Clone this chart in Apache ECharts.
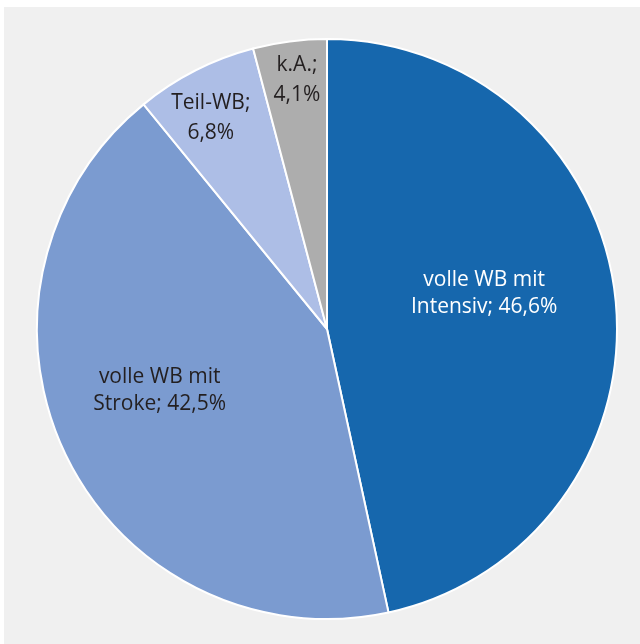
<!DOCTYPE html>
<html>
<head>
<meta charset="utf-8">
<script src="https://cdn.jsdelivr.net/npm/echarts@6/dist/echarts.min.js"></script>
<style>
  html, body { margin: 0; padding: 0; background: #ffffff; }
  #chart { position: absolute; left: 4px; top: 7px; width: 636px; height: 637px; background: #f0f0f0; }
</style>
</head>
<body>
<div id="chart"></div>
<script>
// Anteile der Weiterbildung (Prozent), im Uhrzeigersinn ab 12 Uhr
const categories = ['volle WB mit Intensiv', 'volle WB mit Stroke', 'Teil-WB', 'k.A.'];
const labelNames = ['volle WB mit\nIntensiv', 'volle WB mit\nStroke', 'Teil-WB', 'k.A.'];
const shares = [46.6, 42.5, 6.8, 4.1];
const sliceColors = ['#1667ad', '#7b9bd0', '#adbee6', '#adadad'];
const labelColors = ['#ffffff', '#231f20', '#231f20', '#231f20'];
// label nudges away from the default mid-radius position
const labelShift = [[10, -20], [-34, -3], [-49, -79], [-11, -102]];

const fmt = v => v.toFixed(1).replace('.', ',');

const chart = echarts.init(document.getElementById('chart'), null, { renderer: 'canvas' });
chart.setOption({
  animation: false,
  series: [{
    type: 'pie',
    center: [323, 322],
    radius: [0, 290],
    startAngle: 90,
    clockwise: true,
    silent: true,
    itemStyle: { borderColor: '#ffffff', borderWidth: 2 },
    label: {
      position: 'inside',
      fontFamily: 'Open Sans',
      fontSize: 21,
      lineHeight: 27,
      align: 'center'
    },
    labelLine: { show: false },
    labelLayout: p => ({ dx: labelShift[p.dataIndex][0], dy: labelShift[p.dataIndex][1] }),
    data: categories.map((c, i) => ({
      name: c,
      value: shares[i],
      itemStyle: { color: sliceColors[i] },
      label: {
        color: labelColors[i],
        lineHeight: i >= 2 ? 30 : 27,
        formatter: labelNames[i] + (i >= 2 ? ';\n' : '; ') + fmt(shares[i]) + '%'
      }
    }))
  }]
});
</script>
</body>
</html>
